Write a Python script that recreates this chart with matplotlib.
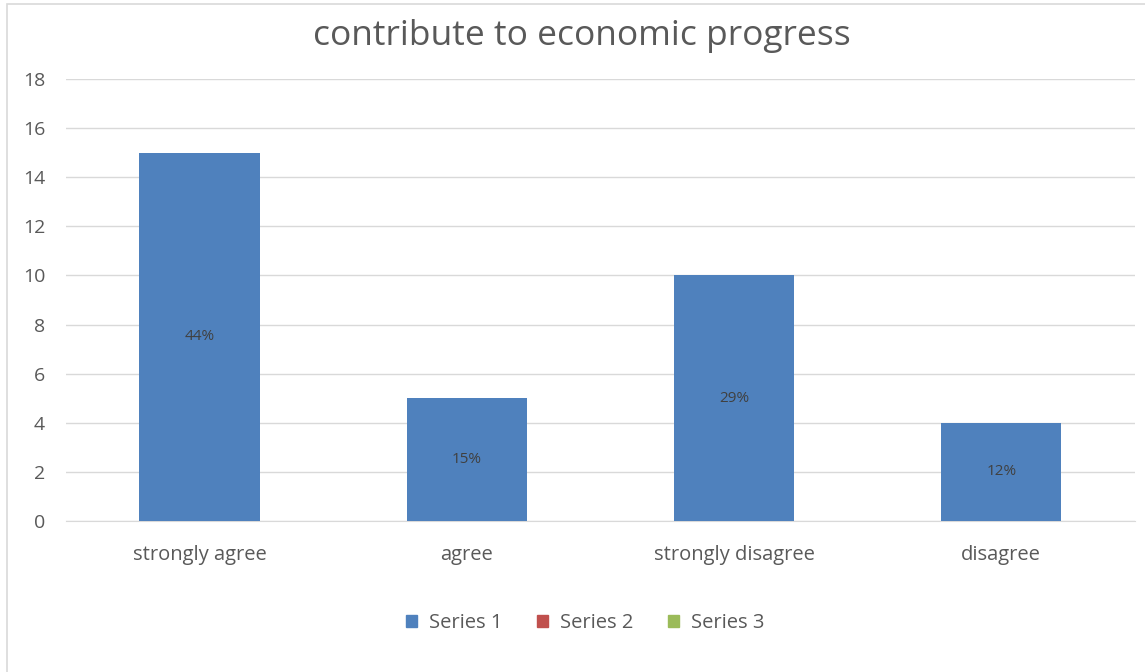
import matplotlib.pyplot as plt
from matplotlib.patches import Patch, Rectangle

plt.rcParams['font.family'] = ['Open Sans', 'DejaVu Sans']

categories = ['strongly agree', 'agree', 'strongly disagree', 'disagree']
series1 = [15, 5, 10, 4]
pct_labels = ['44%', '15%', '29%', '12%']
series_names = ['Series 1', 'Series 2', 'Series 3']
series_colors = ['#4f81bd', '#c0504d', '#9bbb59']

fig = plt.figure(figsize=(11.45, 6.72), dpi=100)
ax = fig.add_axes([0.0576, 0.2247, 0.9336, 0.6577])

# chart frame
fig.patches.append(Rectangle((7 / 1145, -0.1), 1.2, 1.1 - 4 / 672,
                             transform=fig.transFigure, fill=False,
                             edgecolor='#d9d9d9', linewidth=1.2))

x = range(len(categories))
bars = ax.bar(x, series1, width=0.45, color=series_colors[0], zorder=3)
for b, lab in zip(bars, pct_labels):
    ax.text(b.get_x() + b.get_width() / 2, b.get_height() / 2, lab,
            ha='center', va='center', fontsize=11, color='#404040', zorder=4)

ax.set_xlim(-0.5, len(categories) - 0.5)
ax.set_ylim(0, 18)
ax.set_yticks(range(0, 19, 2))
ax.set_xticks(list(x))
ax.set_xticklabels(categories)
ax.grid(axis='y', color='#d9d9d9', linewidth=1, zorder=0)
ax.tick_params(axis='both', length=0, labelsize=14, colors='#595959')
ax.tick_params(axis='x', labelsize=14.5, pad=17)
ax.tick_params(axis='y', pad=15)
for s in ['top', 'right', 'left']:
    ax.spines[s].set_visible(False)
ax.spines['bottom'].set_color('#d9d9d9')

fig.text(0.508, 0.947, 'contribute to economic progress', ha='center', va='center',
         fontsize=25.5, color='#595959')

handles = [Patch(color=c, label=n) for c, n in zip(series_colors, series_names)]
fig.legend(handles=handles, loc='center', bbox_to_anchor=(0.511, 0.073), ncol=3,
           frameon=False, fontsize=14.5, labelcolor='#595959', handlelength=0.55,
           handleheight=0.55, handletextpad=0.6, columnspacing=1.7)

fig.savefig('out.png', dpi=100)
